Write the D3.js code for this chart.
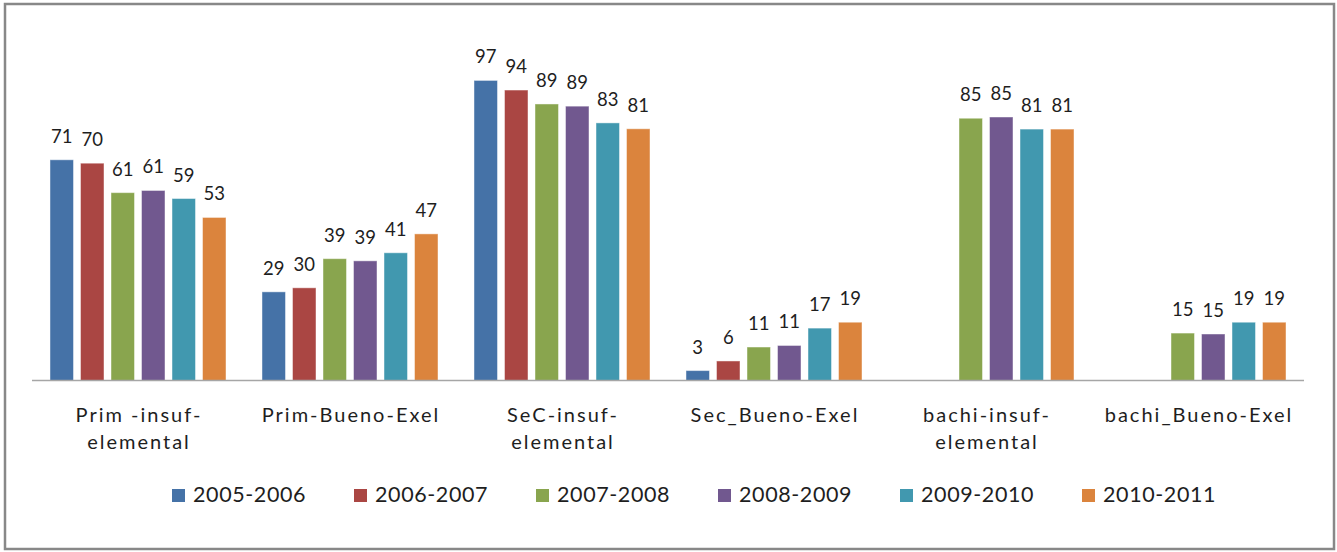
<!DOCTYPE html>
<html>
<head>
<meta charset="utf-8">
<script src="https://cdn.jsdelivr.net/npm/d3@7"></script>
<style>
  body { margin: 0; background: #fff; }
  svg text { font-family: Lato, "Open Sans", sans-serif; fill: #1e1e1e; }
</style>
</head>
<body>
<div id="chart"></div>
<script>
// categories (line breaks as in the picture)
const categories = [
  "Prim -insuf-\nelemental",
  "Prim-Bueno-Exel",
  "SeC-insuf-\nelemental",
  "Sec_Bueno-Exel",
  "bachi-insuf-\nelemental",
  "bachi_Bueno-Exel"
];
const seriesNames = ["2005-2006", "2006-2007", "2007-2008", "2008-2009", "2009-2010", "2010-2011"];
const seriesColors = ["#4572A7", "#AA4643", "#89A54E", "#71588F", "#4198AF", "#DB843D"];

// one array per series, one value per category (null = no bar)
const s2005 = [71.2, 28.6, 96.8, 3.2, null, null];
const s2006 = [70.1, 29.9, 93.7, 6.3, null, null];
const s2007 = [60.6, 39.3, 89.2, 10.8, 84.6, 15.3];
const s2008 = [61.3, 38.6, 88.5, 11.3, 85.0, 15.0];
const s2009 = [58.7, 41.2, 83.1, 16.9, 81.1, 18.8];
const s2010 = [52.6, 47.3, 81.2, 18.8, 81.1, 18.8];
const seriesValues = [s2005, s2006, s2007, s2008, s2009, s2010];

const W = 1337, H = 552
  , axisLeft = 32
  , axisRight = 1304
  , baseY = 380.5
  , plotTop = 70.5;

const svg = d3.select("#chart").append("svg")
  .attr("width", W)
  .attr("height", H);

// outer frame
svg.append("rect")
  .attr("x", 5).attr("y", 4)
  .attr("width", 1329).attr("height", 545)
  .style("fill", "#fff")
  .style("stroke", "#888")
  .style("stroke-width", 2.5);

const x0 = d3.scaleBand()
  .domain(categories)
  .range([axisLeft, axisRight])
  .padding(0);

const x1 = d3.scaleBand()
  .domain(seriesNames)
  .range([0, x0.bandwidth()])
  .paddingInner(0.23)
  .paddingOuter(0.59);

const y = d3.scaleLinear()
  .domain([0, 100])
  .range([baseY, plotTop]);

const fmt = d3.format(".0f");

var cells = [];
categories.forEach(function(cat, ci) {
  seriesNames.forEach(function(s, si) {
    const v = seriesValues[si][ci];
    if (v != null) cells.push({cat: cat, series: s, color: seriesColors[si], value: v});
  });
});

const bars = svg.append("g");
bars.selectAll("rect")
  .data(cells)
  .enter().append("rect")
  .attr("x", d => x0(d.cat) + x1(d.series))
  .attr("y", d => y(d.value))
  .attr("width", x1.bandwidth())
  .attr("height", d => baseY - y(d.value))
  .style("fill", d => d.color)
  .style("stroke", "rgba(255,255,255,0.45)")
  .style("stroke-width", 1);

bars.selectAll("text")
  .data(cells)
  .enter().append("text")
  .attr("x", d => x0(d.cat) + x1(d.series) + x1.bandwidth() / 2)
  .attr("y", d => y(d.value) - 17)
  .attr("text-anchor", "middle")
  .style("font-size", "18.5px")
  .text(d => fmt(d.value));

// category axis
svg.append("line")
  .attr("x1", axisLeft).attr("x2", axisRight)
  .attr("y1", baseY).attr("y2", baseY)
  .style("stroke", "#a6a6a6")
  .style("stroke-width", 1.5);

const catLabels = svg.append("g").selectAll("text")
  .data(categories)
  .enter().append("text")
  .attr("x", d => x0(d) + x0.bandwidth() / 2 + 1)
  .attr("y", 421.5)
  .attr("text-anchor", "middle")
  .style("font-size", "20px")
  .style("letter-spacing", "2px");

catLabels.selectAll("tspan")
  .data(d => d.split("\n"))
  .enter().append("tspan")
  .attr("x", function() { return d3.select(this.parentNode).attr("x"); })
  .attr("dy", (d, i) => i == 0 ? 0 : 27)
  .text(d => d);

// legend
const legendStart = 172
  , legendStep = 182
  , legendY = 489;

const legend = svg.append("g").selectAll("g")
  .data(seriesNames)
  .enter().append("g")
  .attr("transform", (d, i) => `translate(${legendStart + i * legendStep},${legendY})`);

legend.append("rect")
  .attr("width", 13).attr("height", 13)
  .style("fill", (d, i) => seriesColors[i]);

legend.append("text")
  .attr("x", 21)
  .attr("y", 13)
  .style("font-size", "21.5px")
  .style("letter-spacing", "0.6px")
  .text(d => d);
</script>
</body>
</html>
